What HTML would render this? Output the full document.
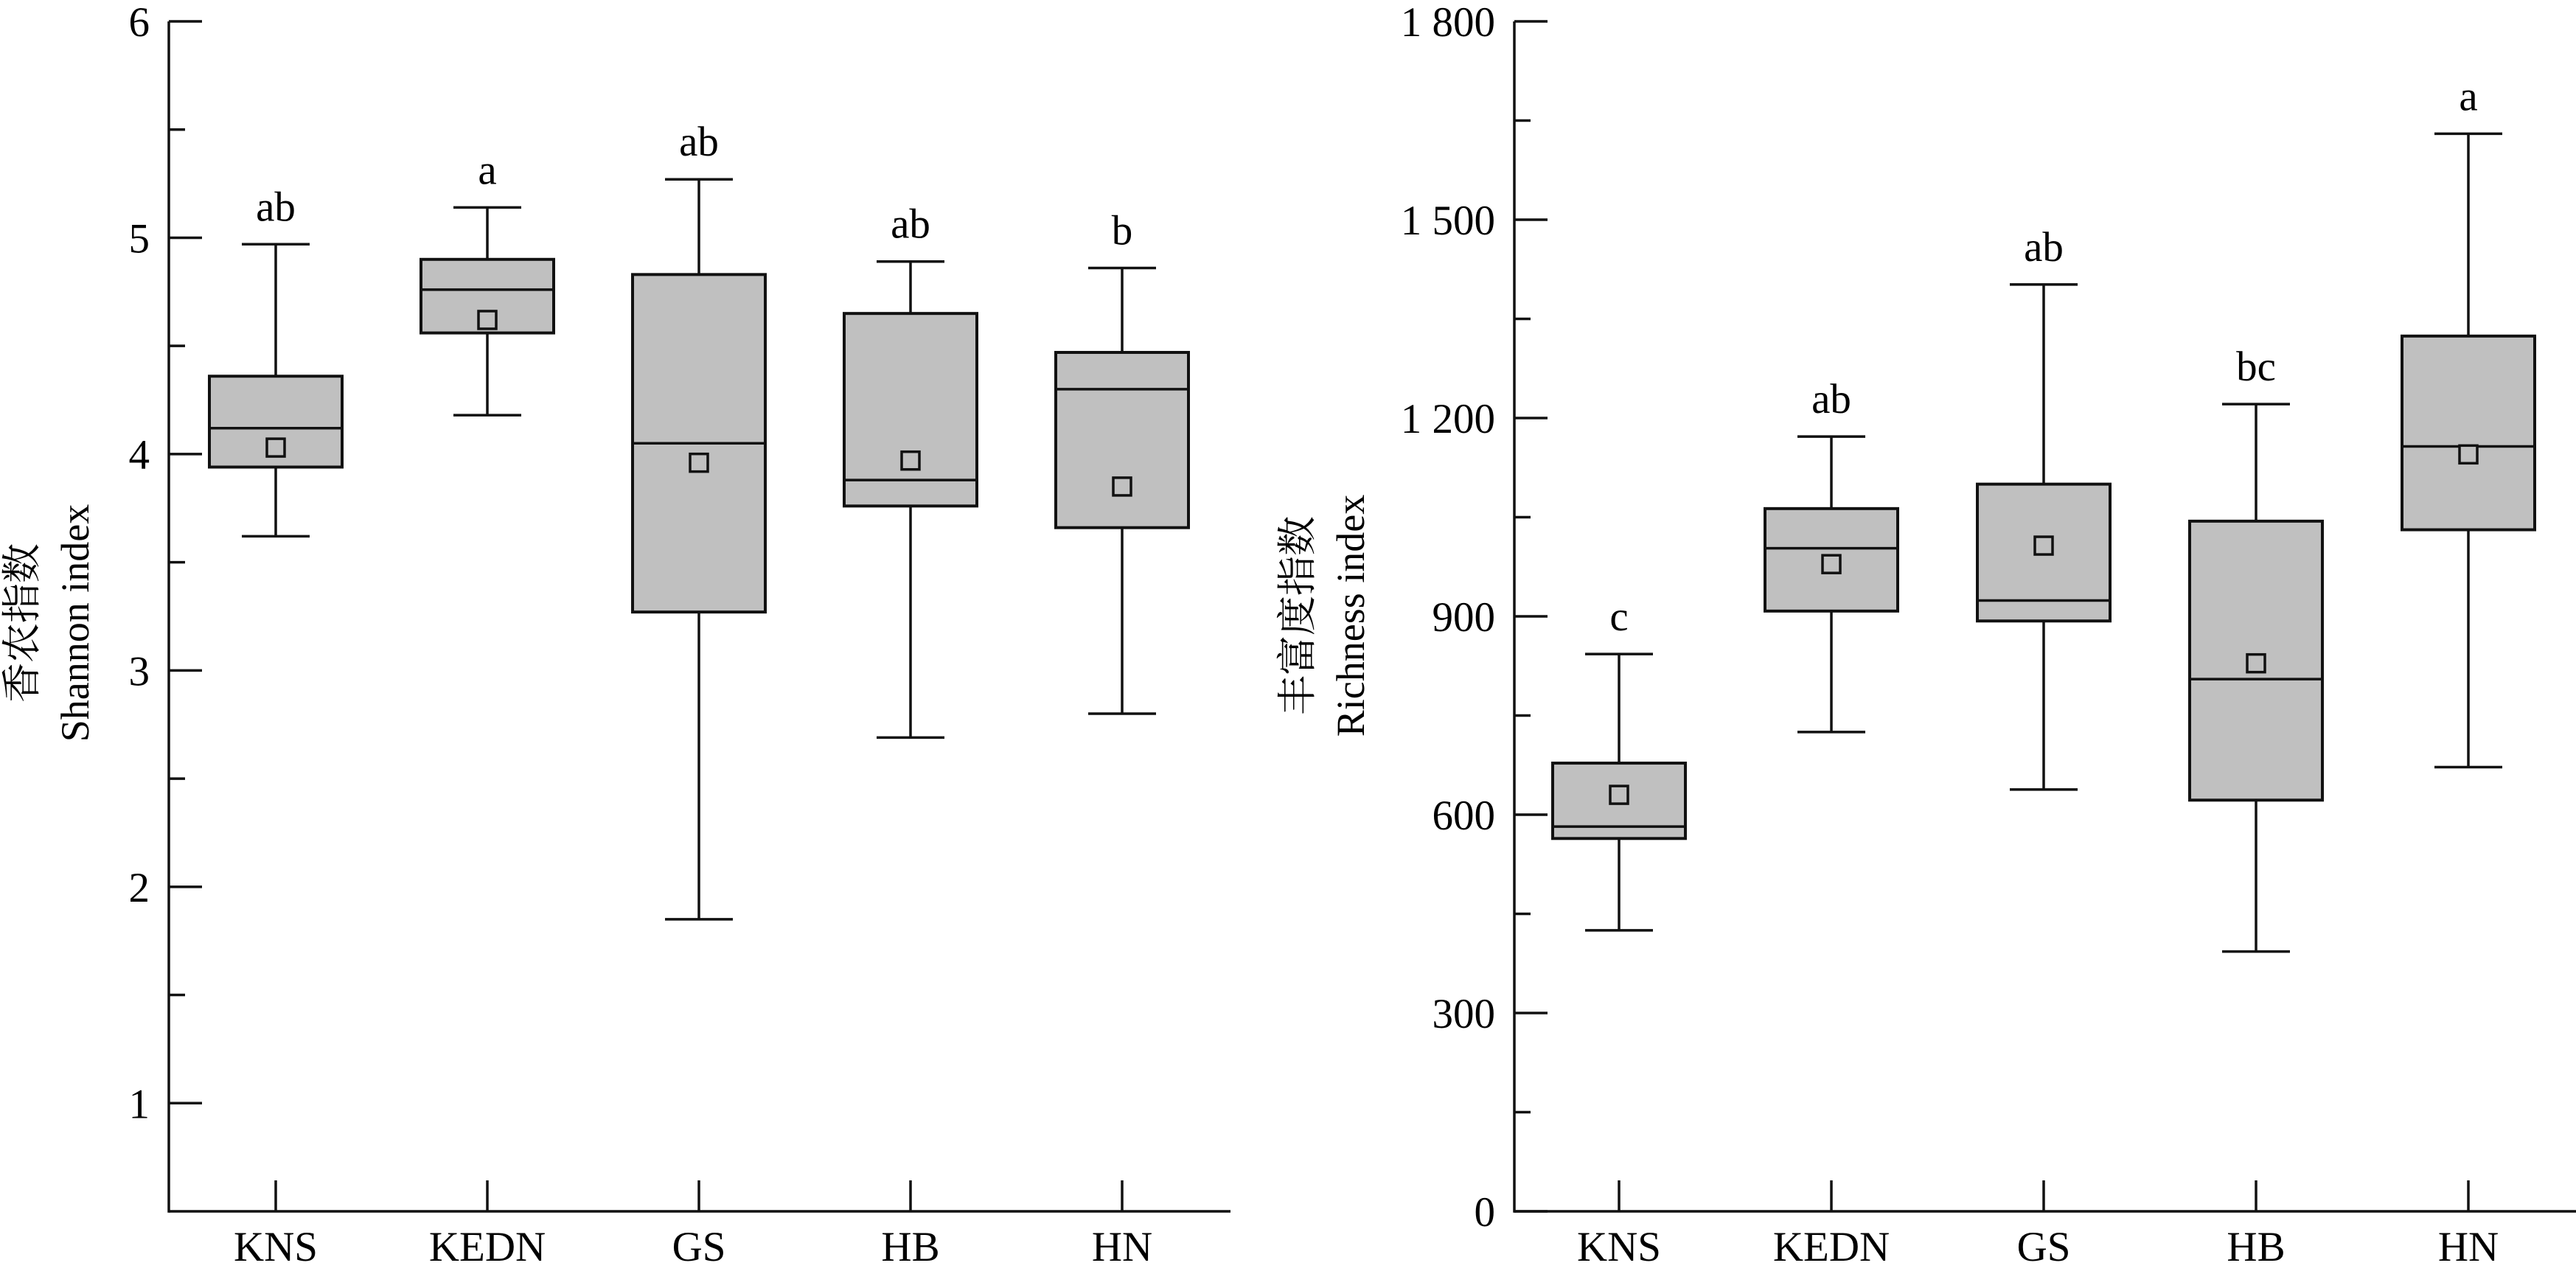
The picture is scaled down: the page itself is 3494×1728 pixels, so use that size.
<!DOCTYPE html>
<html><head><meta charset="utf-8"><style>
html,body{margin:0;padding:0;background:#fff;}
svg{display:block;font-family:"Liberation Serif","Noto Serif CJK SC",serif;}
</style></head><body>
<svg id="chart" width="3494" height="1728" viewBox="0 0 3494 1728" xmlns="http://www.w3.org/2000/svg">
<text transform="translate(48,845) rotate(-90)" text-anchor="middle" font-size="54">香农指数</text>
<text transform="translate(120,845) rotate(-90)" text-anchor="middle" font-size="54">Shannon index</text>
<text transform="translate(1778,835) rotate(-90)" text-anchor="middle" font-size="54">丰富度指数</text>
<text transform="translate(1850,835) rotate(-90)" text-anchor="middle" font-size="54">Richness index</text>
</svg>
<script>
const categories = ["KNS","KEDN","GS","HB","HN"];
// Shannon
const shMax = [4.97,5.14,5.27,4.89,4.86];
const shQ3 = [4.36,4.90,4.83,4.65,4.47];
const shMed = [4.12,4.76,4.05,3.88,4.30];
const shMean = [4.03,4.62,3.96,3.97,3.85];
const shQ1 = [3.94,4.56,3.27,3.76,3.66];
const shMin = [3.62,4.18,1.85,2.69,2.80];
const shLetters = ["ab","a","ab","ab","b"];
const shTicks = [1,2,3,4,5,6];
const shTickLabels = ["1","2","3","4","5","6"];
// Richness
const riMax = [843,1172,1402,1221,1630];
const riQ3 = [678,1063,1100,1044,1324];
const riMed = [582,1003,924,805,1157];
const riMean = [630,979,1007,829,1145];
const riQ1 = [564,908,893,622,1031];
const riMin = [425,725,638,393,672];
const riLetters = ["c","ab","ab","bc","a"];
const riTicks = [0,300,600,900,1200,1500,1800];
const riTickLabels = ["0","300","600","900","1 200","1 500","1 800"];

const svg = document.getElementById('chart');
const NS = "http://www.w3.org/2000/svg";
function mk(tag, attrs, parent){
  const e = document.createElementNS(NS, tag);
  for (const k in attrs) e.setAttribute(k, attrs[k]);
  (parent||svg).appendChild(e);
  return e;
}

function panel(p){
  const g = mk('g', {});
  
  
  const y = v => p.yBottom - (v - p.vMin) / (p.vMax - p.vMin) * (p.yBottom - p.yTop);
  const x = i => p.x0 + i * p.step;
  const sw = 3.5;
  // axes
  const ya = mk('line', {x1:p.axisX, y1:y(p.vMax), x2:p.axisX, y2:p.yBottom+sw/2, stroke:'#111', 'stroke-width':sw}, g);
  
  
  const xa = mk('line', {x1:p.axisX, y1:p.yBottom, x2:p.axisEnd, y2:p.yBottom, stroke:'#111', 'stroke-width':sw}, g);
  
  
  // y ticks
  p.ticks.forEach((t, i) => {
    const tl = mk('line', {x1:p.axisX, y1:y(t), x2:p.axisX+45, y2:y(t), stroke:'#111', 'stroke-width':sw}, g);
    
    
    const tx = mk('text', {x:p.axisX-26, y:y(t)+20, 'text-anchor':'end', 'font-size':57}, g);
    tx.textContent = p.tickLabels[i];
    
    
  });
  // minor ticks
  for (let i = 0; i < p.ticks.length; i++) {
    const m = p.ticks[i] - p.minor;
    if (m < p.vMin - 1e-9) continue;
    if (Math.abs(m - p.vMin) < 1e-9 ) continue;
    const ml = mk('line', {x1:p.axisX, y1:y(m), x2:p.axisX+22, y2:y(m), stroke:'#111', 'stroke-width':sw}, g);
    
    
  }
  // boxes
  const hw = 90, cw = 46, ms = 12;
  categories.forEach((c, i) => {
    const cx = x(i);
    const bg = mk('g', {}, g);
    
    
    const xt = mk('line', {x1:cx, y1:p.yBottom, x2:cx, y2:p.yBottom-42, stroke:'#111', 'stroke-width':sw}, bg);
    
    
    const xl = mk('text', {x:cx, y:1710, 'text-anchor':'middle', 'font-size':57}, bg);
    xl.textContent = c;
    
    
    const w = mk('line', {x1:cx, y1:y(p.max[i]), x2:cx, y2:y(p.min[i]), stroke:'#111', 'stroke-width':sw}, bg);
    
    
    const ct = mk('line', {x1:cx-cw, y1:y(p.max[i]), x2:cx+cw, y2:y(p.max[i]), stroke:'#111', 'stroke-width':sw}, bg);
    
    
    const cb = mk('line', {x1:cx-cw, y1:y(p.min[i]), x2:cx+cw, y2:y(p.min[i]), stroke:'#111', 'stroke-width':sw}, bg);
    
    
    const r = mk('rect', {x:cx-hw, y:y(p.q3[i]), width:2*hw, height:y(p.q1[i])-y(p.q3[i]), fill:'#c0c0c0', stroke:'#111', 'stroke-width':4}, bg);
    
    
    const md = mk('line', {x1:cx-hw, y1:y(p.med[i]), x2:cx+hw, y2:y(p.med[i]), stroke:'#111', 'stroke-width':sw}, bg);
    
    
    const mn = mk('rect', {x:cx-ms, y:y(p.mean[i])-ms, width:2*ms, height:2*ms, fill:'#c0c0c0', stroke:'#111', 'stroke-width':3.5}, bg);
    
    
    const lt = mk('text', {x:cx, y:y(p.max[i])-32, 'text-anchor':'middle', 'font-size':57}, bg);
    lt.textContent = p.letters[i];
    
    
  });
}

panel({name:'shannon-panel', axisX:229, axisEnd:1669, yTop:29, yBottom:1643, vMin:0.5, vMax:6, minor:0.5,
  x0:374, step:287, ticks:shTicks, tickLabels:shTickLabels,
  max:shMax, q3:shQ3, med:shMed, mean:shMean, q1:shQ1, min:shMin, letters:shLetters});
panel({name:'richness-panel', axisX:2054, axisEnd:3494, yTop:29, yBottom:1643, vMin:0, vMax:1800, minor:150,
  x0:2196, step:288, ticks:riTicks, tickLabels:riTickLabels,
  max:riMax, q3:riQ3, med:riMed, mean:riMean, q1:riQ1, min:riMin, letters:riLetters});
</script>
</body></html>
